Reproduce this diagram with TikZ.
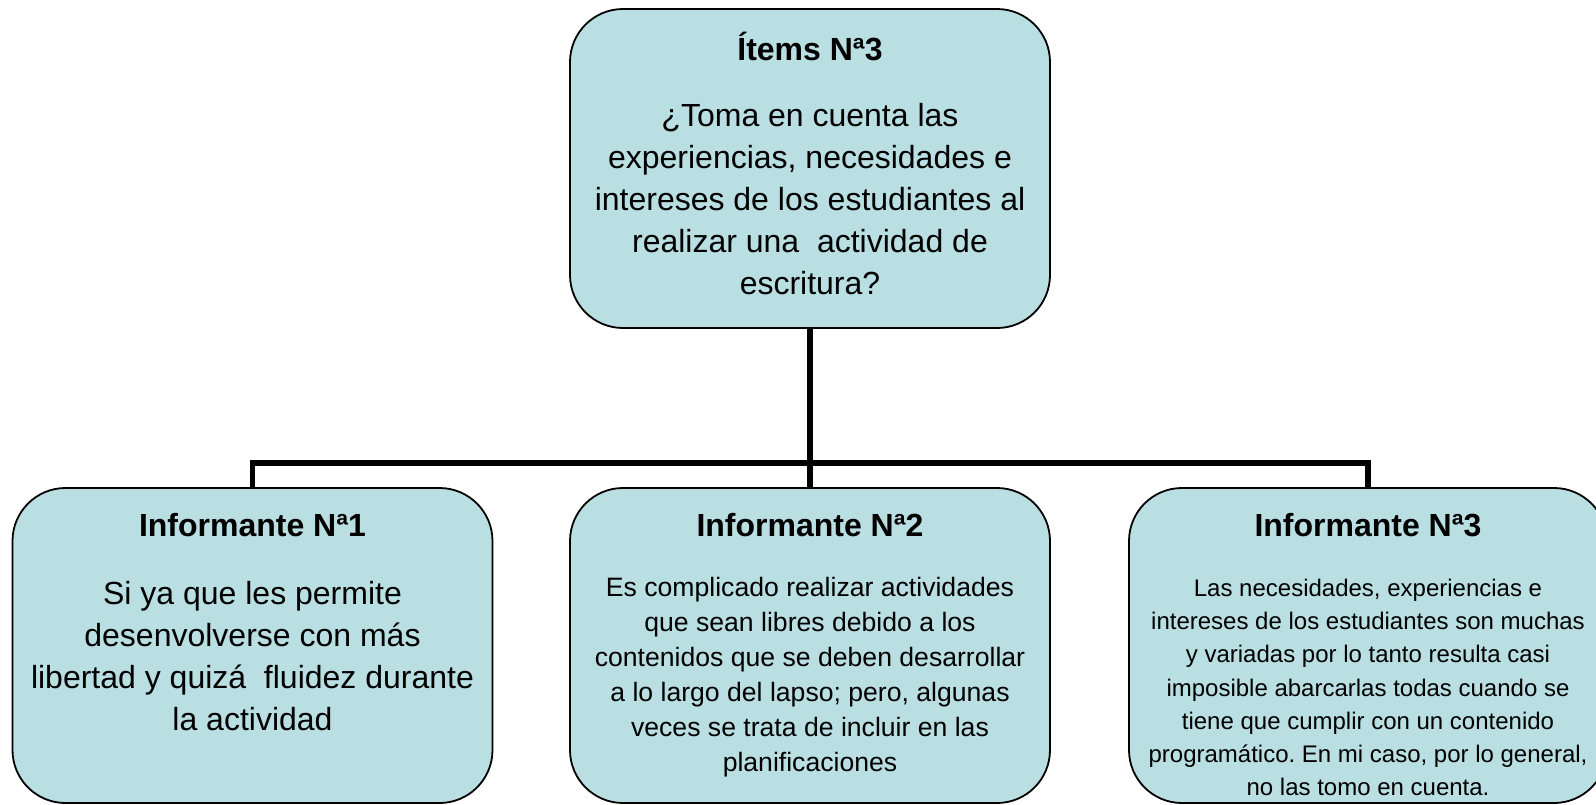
\documentclass[tikz,border=0pt]{standalone}
\usepackage{fontspec}
\setmainfont{Liberation Sans}
\usepackage{xcolor}
\usepackage{tikz}
\usetikzlibrary{positioning}
\definecolor{cardfill}{RGB}{185,223,227}
\frenchspacing

\begin{document}
\begin{tikzpicture}[x=1pt, y=1pt,
    card/.style={rectangle, draw=black, line width=1.8pt, fill=cardfill, rounded corners=53pt, minimum width=480pt, minimum height=315pt, inner sep=0pt},
    cardtitle/.style={font=\fontsize{32}{38}\selectfont\bfseries},
    cardtext/.style={align=center},
    branch/.style={line width=5.5pt}
]
    \useasboundingbox (0,0) rectangle (1596,-804);
    \clip (0,0) rectangle (1596,-804);

    % Item box
    \node[card, minimum height=319pt] (item) at (810,-168.5) {};
    \node[cardtitle] (itemhead) at (810,-46) {Ítems Nª3};
    \node[cardtext, font=\fontsize{32}{42}\selectfont] (itembody) at (810,-199.5) {¿Toma en cuenta las\\experiencias, necesidades e\\intereses de los estudiantes al\\realizar una \ actividad de\\escritura?};

    % Informant boxes
    \node[card] (inf1) at (252.5,-645.5) {};
    \node[card] (inf2) at (810,-645.5) {};
    \node[card, minimum width=478pt] (inf3) at (1368,-645.5) {};

    \node[cardtitle] (inf1head) at (252.5,-525) {Informante Nª1};
    \node[cardtitle] (inf2head) at (810,-525) {Informante Nª2};
    \node[cardtitle] (inf3head) at (1368,-525) {Informante Nª3};

    \node[cardtext, font=\fontsize{32}{42}\selectfont] (inf1body) at (252.5,-656) {Si ya que les permite\\desenvolverse con más\\libertad y quizá \ fluidez durante\\la actividad};
    \node[cardtext, font=\fontsize{26.6}{35}\selectfont] (inf2body) at (810,-677.5) {Es complicado realizar actividades\\que sean libres debido a los\\contenidos que se deben desarrollar\\a lo largo del lapso; pero, algunas\\veces se trata de incluir en las\\planificaciones};
    \node[cardtext, font=\fontsize{24}{33.2}\selectfont] (inf3body) at (1368,-687.5) {Las necesidades, experiencias e\\intereses de los estudiantes son muchas\\y variadas por lo tanto resulta casi\\imposible abarcarlas todas cuando se\\tiene que cumplir con un contenido\\programático. En mi caso, por lo general,\\no las tomo en cuenta.};

    % Connectors
    \coordinate (bus) at (810,-463);
    \draw[branch] (item.south) -- (bus);
    \draw[branch] (inf1.north) |- (bus) -| (inf3.north);
    \draw[branch] (bus) -- (inf2.north);
\end{tikzpicture}
\end{document}
